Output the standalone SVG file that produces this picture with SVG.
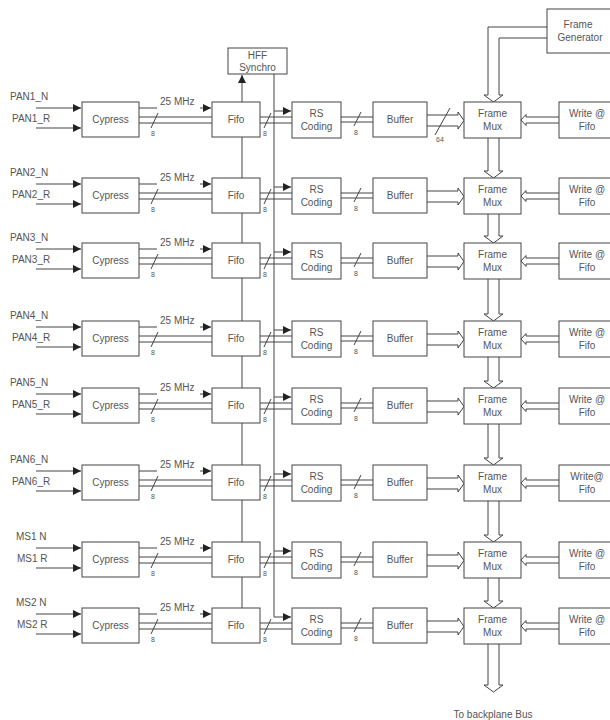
<svg xmlns="http://www.w3.org/2000/svg" width="610" height="720" viewBox="0 0 610 720">
<style>
.box{fill:#fff;stroke:#444;stroke-width:1}
.w{fill:none;stroke:#444;stroke-width:1}
.t{font-family:"Liberation Sans",Arial,sans-serif;font-size:10px;fill:#555;text-anchor:middle}
.l{text-anchor:start}
.s{font-size:7px}
</style>
<defs>
<marker id="fa" viewBox="0 0 10 10" refX="10" refY="5" markerWidth="9" markerHeight="8" orient="auto" markerUnits="userSpaceOnUse"><path d="M0 0L10 5L0 10z" fill="#222"/></marker>
</defs>
<rect width="610" height="720" fill="#fff"/>
<g id="connectors">
<path class="w" d="M242 608V75" marker-end="url(#fa)"/>
<path class="w" d="M274 74V617H291" marker-end="url(#fa)"/>
<path class="w" d="M547 27H488V95H484L493.5 102L503 95H499V38H547"/>
<path class="w" d="M488 138V171H484L493.5 178L503 171H499V138"/>
<path class="w" d="M488 214V236H484L493.5 243L503 236H499V214"/>
<path class="w" d="M488 279V314H484L493.5 321L503 314H499V279"/>
<path class="w" d="M488 357V381H484L493.5 388L503 381H499V357"/>
<path class="w" d="M488 424V458H484L493.5 465L503 458H499V424"/>
<path class="w" d="M488 501V535H484L493.5 542L503 535H499V501"/>
<path class="w" d="M488 578V601H484L493.5 608L503 601H499V578"/>
<path class="w" d="M488 644V685H484L493.5 692L503 685H499V644"/>
<text class="t" x="493" y="718">To backplane Bus</text>
<g transform="translate(0,102)">
<path class="w" d="M435 33L450 6"/><text class="t s" x="440" y="40">64</text>
</g>
<g id="row-conn-1" transform="translate(0,102)">
<path class="w" d="M36 6H81" marker-end="url(#fa)"/><path class="w" d="M36 26H81" marker-end="url(#fa)"/>
<path class="w" d="M139 6H157"/><path class="w" d="M200 6H211" marker-end="url(#fa)"/>
<text class="t l" x="160" y="3">25 MHz</text>
<path class="w" d="M139 15H212M139 21H212M151 26L158 11"/><text class="t s" x="153" y="34">8</text>
<path class="w" d="M260 15H292M260 21H292M264 26L271 11"/><text class="t s" x="265" y="34">8</text>
<path class="w" d="M274 9H291" marker-end="url(#fa)"/>
<path class="w" d="M341 15H373M341 20H373M354 24L361 10"/><text class="t s" x="356" y="33">8</text>
<path class="w" d="M427 13H458V10L464 18.5L458 27V24H427"/>
<path class="w" d="M559 15H526V12.5L521 18L526 23.5V21H559"/>
</g>
<g id="row-conn-2" transform="translate(0,178)">
<path class="w" d="M36 6H81" marker-end="url(#fa)"/><path class="w" d="M36 26H81" marker-end="url(#fa)"/>
<path class="w" d="M139 6H157"/><path class="w" d="M200 6H211" marker-end="url(#fa)"/>
<text class="t l" x="160" y="3">25 MHz</text>
<path class="w" d="M139 15H212M139 21H212M151 26L158 11"/><text class="t s" x="153" y="34">8</text>
<path class="w" d="M260 15H292M260 21H292M264 26L271 11"/><text class="t s" x="265" y="34">8</text>
<path class="w" d="M274 9H291" marker-end="url(#fa)"/>
<path class="w" d="M341 15H373M341 20H373M354 24L361 10"/><text class="t s" x="356" y="33">8</text>
<path class="w" d="M427 13H458V10L464 18.5L458 27V24H427"/>
<path class="w" d="M559 15H526V12.5L521 18L526 23.5V21H559"/>
</g>
<g id="row-conn-3" transform="translate(0,243)">
<path class="w" d="M36 6H81" marker-end="url(#fa)"/><path class="w" d="M36 26H81" marker-end="url(#fa)"/>
<path class="w" d="M139 6H157"/><path class="w" d="M200 6H211" marker-end="url(#fa)"/>
<text class="t l" x="160" y="3">25 MHz</text>
<path class="w" d="M139 15H212M139 21H212M151 26L158 11"/><text class="t s" x="153" y="34">8</text>
<path class="w" d="M260 15H292M260 21H292M264 26L271 11"/><text class="t s" x="265" y="34">8</text>
<path class="w" d="M274 9H291" marker-end="url(#fa)"/>
<path class="w" d="M341 15H373M341 20H373M354 24L361 10"/><text class="t s" x="356" y="33">8</text>
<path class="w" d="M427 13H458V10L464 18.5L458 27V24H427"/>
<path class="w" d="M559 15H526V12.5L521 18L526 23.5V21H559"/>
</g>
<g id="row-conn-4" transform="translate(0,321)">
<path class="w" d="M36 6H81" marker-end="url(#fa)"/><path class="w" d="M36 26H81" marker-end="url(#fa)"/>
<path class="w" d="M139 6H157"/><path class="w" d="M200 6H211" marker-end="url(#fa)"/>
<text class="t l" x="160" y="3">25 MHz</text>
<path class="w" d="M139 15H212M139 21H212M151 26L158 11"/><text class="t s" x="153" y="34">8</text>
<path class="w" d="M260 15H292M260 21H292M264 26L271 11"/><text class="t s" x="265" y="34">8</text>
<path class="w" d="M274 9H291" marker-end="url(#fa)"/>
<path class="w" d="M341 15H373M341 20H373M354 24L361 10"/><text class="t s" x="356" y="33">8</text>
<path class="w" d="M427 13H458V10L464 18.5L458 27V24H427"/>
<path class="w" d="M559 15H526V12.5L521 18L526 23.5V21H559"/>
</g>
<g id="row-conn-5" transform="translate(0,388)">
<path class="w" d="M36 6H81" marker-end="url(#fa)"/><path class="w" d="M36 26H81" marker-end="url(#fa)"/>
<path class="w" d="M139 6H157"/><path class="w" d="M200 6H211" marker-end="url(#fa)"/>
<text class="t l" x="160" y="3">25 MHz</text>
<path class="w" d="M139 15H212M139 21H212M151 26L158 11"/><text class="t s" x="153" y="34">8</text>
<path class="w" d="M260 15H292M260 21H292M264 26L271 11"/><text class="t s" x="265" y="34">8</text>
<path class="w" d="M274 9H291" marker-end="url(#fa)"/>
<path class="w" d="M341 15H373M341 20H373M354 24L361 10"/><text class="t s" x="356" y="33">8</text>
<path class="w" d="M427 13H458V10L464 18.5L458 27V24H427"/>
<path class="w" d="M559 15H526V12.5L521 18L526 23.5V21H559"/>
</g>
<g id="row-conn-6" transform="translate(0,465)">
<path class="w" d="M36 6H81" marker-end="url(#fa)"/><path class="w" d="M36 26H81" marker-end="url(#fa)"/>
<path class="w" d="M139 6H157"/><path class="w" d="M200 6H211" marker-end="url(#fa)"/>
<text class="t l" x="160" y="3">25 MHz</text>
<path class="w" d="M139 15H212M139 21H212M151 26L158 11"/><text class="t s" x="153" y="34">8</text>
<path class="w" d="M260 15H292M260 21H292M264 26L271 11"/><text class="t s" x="265" y="34">8</text>
<path class="w" d="M274 9H291" marker-end="url(#fa)"/>
<path class="w" d="M341 15H373M341 20H373M354 24L361 10"/><text class="t s" x="356" y="33">8</text>
<path class="w" d="M427 13H458V10L464 18.5L458 27V24H427"/>
<path class="w" d="M559 15H526V12.5L521 18L526 23.5V21H559"/>
</g>
<g id="row-conn-7" transform="translate(0,542)">
<path class="w" d="M36 6H81" marker-end="url(#fa)"/><path class="w" d="M36 26H81" marker-end="url(#fa)"/>
<path class="w" d="M139 6H157"/><path class="w" d="M200 6H211" marker-end="url(#fa)"/>
<text class="t l" x="160" y="3">25 MHz</text>
<path class="w" d="M139 15H212M139 21H212M151 26L158 11"/><text class="t s" x="153" y="34">8</text>
<path class="w" d="M260 15H292M260 21H292M264 26L271 11"/><text class="t s" x="265" y="34">8</text>
<path class="w" d="M274 9H291" marker-end="url(#fa)"/>
<path class="w" d="M341 15H373M341 20H373M354 24L361 10"/><text class="t s" x="356" y="33">8</text>
<path class="w" d="M427 13H458V10L464 18.5L458 27V24H427"/>
<path class="w" d="M559 15H526V12.5L521 18L526 23.5V21H559"/>
</g>
<g id="row-conn-8" transform="translate(0,608)">
<path class="w" d="M36 6H81" marker-end="url(#fa)"/><path class="w" d="M36 26H81" marker-end="url(#fa)"/>
<path class="w" d="M139 6H157"/><path class="w" d="M200 6H211" marker-end="url(#fa)"/>
<text class="t l" x="160" y="3">25 MHz</text>
<path class="w" d="M139 15H212M139 21H212M151 26L158 11"/><text class="t s" x="153" y="34">8</text>
<path class="w" d="M260 15H292M260 21H292M264 26L271 11"/><text class="t s" x="265" y="34">8</text>
<path class="w" d="M341 15H373M341 20H373M354 24L361 10"/><text class="t s" x="356" y="33">8</text>
<path class="w" d="M427 13H458V10L464 18.5L458 27V24H427"/>
<path class="w" d="M559 15H526V12.5L521 18L526 23.5V21H559"/>
</g>
</g>
<g id="hff"><rect class="box" x="228" y="48" width="59" height="26"/><text class="t" x="257.5" y="59">HFF</text><text class="t" x="257.5" y="71">Synchro</text></g>
<g id="framegen"><rect class="box" x="547" y="9" width="70" height="44"/><text class="t" x="578" y="28">Frame</text><text class="t" x="580" y="41">Generator</text></g>
<g transform="translate(0,102)">
<text class="t l" x="10" y="-2">PAN1_N</text><text class="t l" x="12" y="20">PAN1_R</text>
<g id="cypress1"><rect class="box" x="82" y="0" width="57" height="35"/><text class="t" x="110.5" y="21">Cypress</text></g>
<g id="fifo1"><rect class="box" x="212" y="0" width="48" height="35"/><text class="t" x="236" y="21">Fifo</text></g>
<g id="rs1"><rect class="box" x="292" y="0" width="49" height="36"/><text class="t" x="316.5" y="15">RS</text><text class="t" x="316.5" y="28">Coding</text></g>
<g id="buffer1"><rect class="box" x="373" y="0" width="54" height="35"/><text class="t" x="400" y="21">Buffer</text></g>
<g id="mux1"><rect class="box" x="464" y="0" width="57" height="36"/><text class="t" x="492.5" y="15">Frame</text><text class="t" x="492.5" y="28">Mux</text></g>
<g id="wfifo1"><rect class="box" x="559" y="0" width="60" height="36"/><text class="t" x="587" y="15">Write @</text><text class="t" x="587" y="28">Fifo</text></g>
</g>
<g transform="translate(0,178)">
<text class="t l" x="10" y="-2">PAN2_N</text><text class="t l" x="12" y="20">PAN2_R</text>
<g id="cypress2"><rect class="box" x="82" y="0" width="57" height="35"/><text class="t" x="110.5" y="21">Cypress</text></g>
<g id="fifo2"><rect class="box" x="212" y="0" width="48" height="35"/><text class="t" x="236" y="21">Fifo</text></g>
<g id="rs2"><rect class="box" x="292" y="0" width="49" height="36"/><text class="t" x="316.5" y="15">RS</text><text class="t" x="316.5" y="28">Coding</text></g>
<g id="buffer2"><rect class="box" x="373" y="0" width="54" height="35"/><text class="t" x="400" y="21">Buffer</text></g>
<g id="mux2"><rect class="box" x="464" y="0" width="57" height="36"/><text class="t" x="492.5" y="15">Frame</text><text class="t" x="492.5" y="28">Mux</text></g>
<g id="wfifo2"><rect class="box" x="559" y="0" width="60" height="36"/><text class="t" x="587" y="15">Write @</text><text class="t" x="587" y="28">Fifo</text></g>
</g>
<g transform="translate(0,243)">
<text class="t l" x="10" y="-2">PAN3_N</text><text class="t l" x="12" y="20">PAN3_R</text>
<g id="cypress3"><rect class="box" x="82" y="0" width="57" height="35"/><text class="t" x="110.5" y="21">Cypress</text></g>
<g id="fifo3"><rect class="box" x="212" y="0" width="48" height="35"/><text class="t" x="236" y="21">Fifo</text></g>
<g id="rs3"><rect class="box" x="292" y="0" width="49" height="36"/><text class="t" x="316.5" y="15">RS</text><text class="t" x="316.5" y="28">Coding</text></g>
<g id="buffer3"><rect class="box" x="373" y="0" width="54" height="35"/><text class="t" x="400" y="21">Buffer</text></g>
<g id="mux3"><rect class="box" x="464" y="0" width="57" height="36"/><text class="t" x="492.5" y="15">Frame</text><text class="t" x="492.5" y="28">Mux</text></g>
<g id="wfifo3"><rect class="box" x="559" y="0" width="60" height="36"/><text class="t" x="587" y="15">Write @</text><text class="t" x="587" y="28">Fifo</text></g>
</g>
<g transform="translate(0,321)">
<text class="t l" x="10" y="-2">PAN4_N</text><text class="t l" x="12" y="20">PAN4_R</text>
<g id="cypress4"><rect class="box" x="82" y="0" width="57" height="35"/><text class="t" x="110.5" y="21">Cypress</text></g>
<g id="fifo4"><rect class="box" x="212" y="0" width="48" height="35"/><text class="t" x="236" y="21">Fifo</text></g>
<g id="rs4"><rect class="box" x="292" y="0" width="49" height="36"/><text class="t" x="316.5" y="15">RS</text><text class="t" x="316.5" y="28">Coding</text></g>
<g id="buffer4"><rect class="box" x="373" y="0" width="54" height="35"/><text class="t" x="400" y="21">Buffer</text></g>
<g id="mux4"><rect class="box" x="464" y="0" width="57" height="36"/><text class="t" x="492.5" y="15">Frame</text><text class="t" x="492.5" y="28">Mux</text></g>
<g id="wfifo4"><rect class="box" x="559" y="0" width="60" height="36"/><text class="t" x="587" y="15">Write @</text><text class="t" x="587" y="28">Fifo</text></g>
</g>
<g transform="translate(0,388)">
<text class="t l" x="10" y="-2">PAN5_N</text><text class="t l" x="12" y="20">PAN5_R</text>
<g id="cypress5"><rect class="box" x="82" y="0" width="57" height="35"/><text class="t" x="110.5" y="21">Cypress</text></g>
<g id="fifo5"><rect class="box" x="212" y="0" width="48" height="35"/><text class="t" x="236" y="21">Fifo</text></g>
<g id="rs5"><rect class="box" x="292" y="0" width="49" height="36"/><text class="t" x="316.5" y="15">RS</text><text class="t" x="316.5" y="28">Coding</text></g>
<g id="buffer5"><rect class="box" x="373" y="0" width="54" height="35"/><text class="t" x="400" y="21">Buffer</text></g>
<g id="mux5"><rect class="box" x="464" y="0" width="57" height="36"/><text class="t" x="492.5" y="15">Frame</text><text class="t" x="492.5" y="28">Mux</text></g>
<g id="wfifo5"><rect class="box" x="559" y="0" width="60" height="36"/><text class="t" x="587" y="15">Write @</text><text class="t" x="587" y="28">Fifo</text></g>
</g>
<g transform="translate(0,465)">
<text class="t l" x="10" y="-2">PAN6_N</text><text class="t l" x="12" y="20">PAN6_R</text>
<g id="cypress6"><rect class="box" x="82" y="0" width="57" height="35"/><text class="t" x="110.5" y="21">Cypress</text></g>
<g id="fifo6"><rect class="box" x="212" y="0" width="48" height="35"/><text class="t" x="236" y="21">Fifo</text></g>
<g id="rs6"><rect class="box" x="292" y="0" width="49" height="36"/><text class="t" x="316.5" y="15">RS</text><text class="t" x="316.5" y="28">Coding</text></g>
<g id="buffer6"><rect class="box" x="373" y="0" width="54" height="35"/><text class="t" x="400" y="21">Buffer</text></g>
<g id="mux6"><rect class="box" x="464" y="0" width="57" height="36"/><text class="t" x="492.5" y="15">Frame</text><text class="t" x="492.5" y="28">Mux</text></g>
<g id="wfifo6"><rect class="box" x="559" y="0" width="60" height="36"/><text class="t" x="587" y="15">Write@</text><text class="t" x="587" y="28">Fifo</text></g>
</g>
<g transform="translate(0,542)">
<text class="t l" x="16" y="-2">MS1 N</text><text class="t l" x="17" y="20">MS1 R</text>
<g id="cypress7"><rect class="box" x="82" y="0" width="57" height="35"/><text class="t" x="110.5" y="21">Cypress</text></g>
<g id="fifo7"><rect class="box" x="212" y="0" width="48" height="35"/><text class="t" x="236" y="21">Fifo</text></g>
<g id="rs7"><rect class="box" x="292" y="0" width="49" height="36"/><text class="t" x="316.5" y="15">RS</text><text class="t" x="316.5" y="28">Coding</text></g>
<g id="buffer7"><rect class="box" x="373" y="0" width="54" height="35"/><text class="t" x="400" y="21">Buffer</text></g>
<g id="mux7"><rect class="box" x="464" y="0" width="57" height="36"/><text class="t" x="492.5" y="15">Frame</text><text class="t" x="492.5" y="28">Mux</text></g>
<g id="wfifo7"><rect class="box" x="559" y="0" width="60" height="36"/><text class="t" x="587" y="15">Write @</text><text class="t" x="587" y="28">Fifo</text></g>
</g>
<g transform="translate(0,608)">
<text class="t l" x="16" y="-2">MS2 N</text><text class="t l" x="17" y="20">MS2 R</text>
<g id="cypress8"><rect class="box" x="82" y="0" width="57" height="35"/><text class="t" x="110.5" y="21">Cypress</text></g>
<g id="fifo8"><rect class="box" x="212" y="0" width="48" height="35"/><text class="t" x="236" y="21">Fifo</text></g>
<g id="rs8"><rect class="box" x="292" y="0" width="49" height="36"/><text class="t" x="316.5" y="15">RS</text><text class="t" x="316.5" y="28">Coding</text></g>
<g id="buffer8"><rect class="box" x="373" y="0" width="54" height="35"/><text class="t" x="400" y="21">Buffer</text></g>
<g id="mux8"><rect class="box" x="464" y="0" width="57" height="36"/><text class="t" x="492.5" y="15">Frame</text><text class="t" x="492.5" y="28">Mux</text></g>
<g id="wfifo8"><rect class="box" x="559" y="0" width="60" height="36"/><text class="t" x="587" y="15">Write @</text><text class="t" x="587" y="28">Fifo</text></g>
</g>
</svg>
